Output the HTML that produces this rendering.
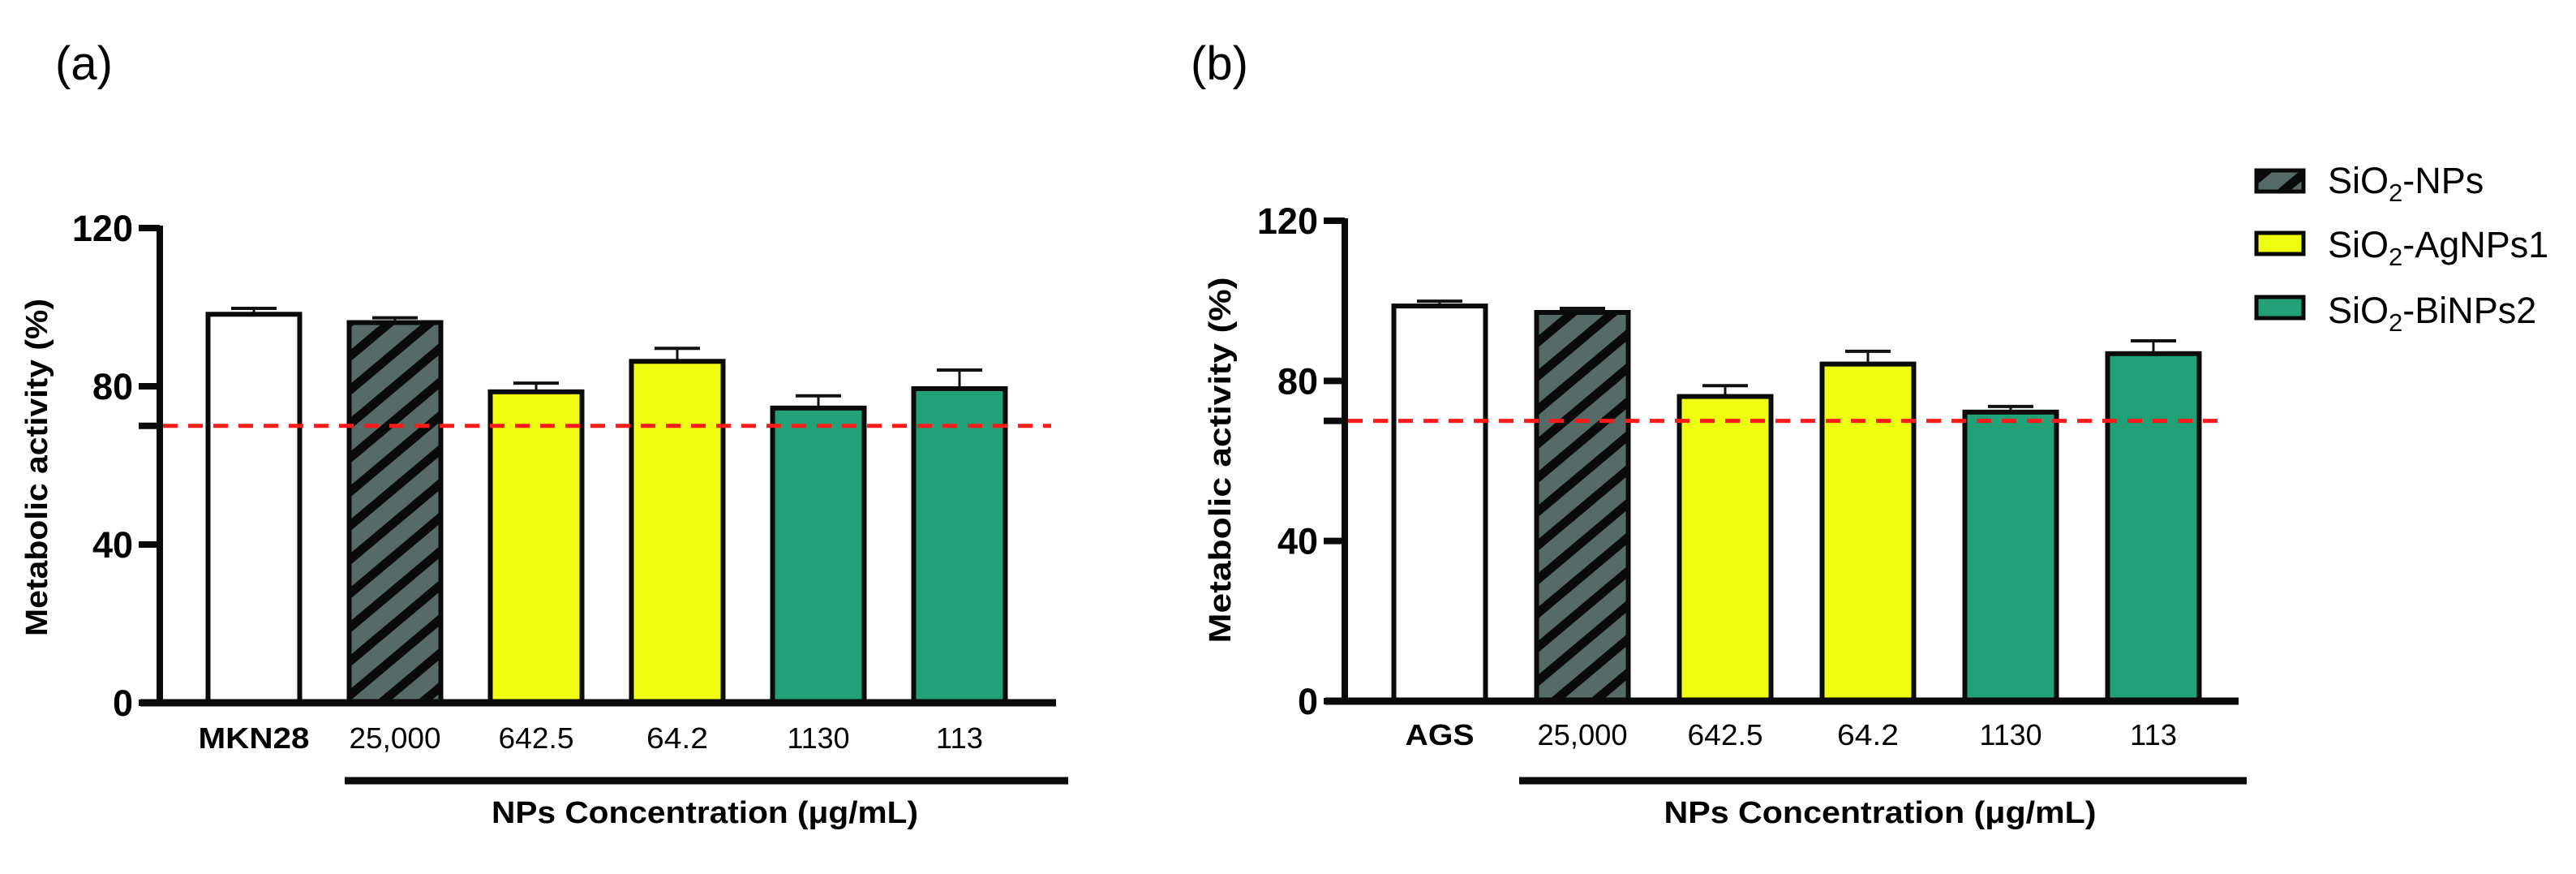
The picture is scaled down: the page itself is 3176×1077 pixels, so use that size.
<!DOCTYPE html>
<html><head><meta charset="utf-8"><style>
html,body{margin:0;padding:0;background:#fff;}
svg{display:block;}
text{font-family:"Liberation Sans",Arial,sans-serif;fill:#000;}
</style></head><body>
<svg id="fig" width="3176" height="1077" viewBox="0 0 3176 1077" xmlns="http://www.w3.org/2000/svg">
<defs>
<pattern id="hatch" patternUnits="userSpaceOnUse" width="32" height="32" patternTransform="rotate(-40)">
<rect width="32" height="32" fill="#566a68"/>
<rect width="32" height="11" fill="#0a0a0a"/>
</pattern>
</defs>
<g id="root"></g>
</svg>
<script>
const categoriesA = ["MKN28","25,000","642.5","64.2","1130","113"];
const valuesA = [98.2, 96.1, 78.6, 86.3, 74.5, 79.4];
const errorsA = [1.5, 1.2, 2.2, 3.3, 3.1, 4.7];
const categoriesB = ["AGS","25,000","642.5","64.2","1130","113"];
const valuesB = [98.7, 97.1, 76.1, 84.2, 72.2, 86.8];
const errorsB = [1.2, 1.0, 2.7, 3.2, 1.4, 3.2];
const groups = ["control","SiO2-NPs","SiO2-AgNPs1","SiO2-AgNPs1","SiO2-BiNPs2","SiO2-BiNPs2"];
const yTicks = [0, 40, 80, 120];
const threshold = 70;
const legendLabels = ["SiO2-NPs","SiO2-AgNPs1","SiO2-BiNPs2"];

const NS = "http://www.w3.org/2000/svg";
const root = document.getElementById("root");
function mk(tag, attrs, parent){
  const e = document.createElementNS(NS, tag);
  for (const k in attrs) e.setAttribute(k, attrs[k]);
  (parent||root).appendChild(e);
  return e;
}
const fills = {"control":"#ffffff","SiO2-NPs":"url(#hatch)","SiO2-AgNPs1":"#eeff10","SiO2-BiNPs2":"#22a077"};

function panel(p){
  const g = mk("g", {});
  
  
  const y = v => p.y0 - (v/120)*(p.y0 - p.y120);
  const x = i => p.x0 + i*p.step;
  const lt = mk("text", {x:p.letterX, y:98, "font-size":58}, g);
  lt.textContent = p.letter;
  
  
  const yt = mk("text", {x:0, y:0, "font-size":38, "font-weight":"bold", "text-anchor":"middle",
    transform:`translate(${p.titleX},${p.titleY}) rotate(-90)`, textLength:p.titleLen, lengthAdjust:"spacingAndGlyphs"}, g);
  yt.textContent = "Metabolic activity (%)";
  
  
  p.values.forEach((v, i) => {
    const cx = x(i), w = 113;
    const e = p.errors[i];
    const el = mk("line", {x1:cx, x2:cx, y1:y(v), y2:y(v+e), stroke:"#111", "stroke-width":3}, g);
    
    
    const cap = mk("line", {x1:cx-28, x2:cx+28, y1:y(v+e), y2:y(v+e), stroke:"#111", "stroke-width":4}, g);
    
    
    const r = mk("rect", {x:cx-w/2, y:y(v), width:w, height:y(0)-y(v), fill:fills[groups[i]], stroke:"#0a0a0a", "stroke-width":6}, g);
    
    
    const t = mk("text", {x:cx, y:p.labelY, "font-size":36, "text-anchor":"middle", "font-weight": i===0?"bold":"normal",
      textLength:p.labelLens[i], lengthAdjust:"spacingAndGlyphs"}, g);
    t.textContent = p.cats[i];
    
    
  });
  const th = mk("line", {x1:p.axisX+4, x2:p.redEnd, y1:y(threshold), y2:y(threshold), stroke:"#ff1a1a", "stroke-width":5, "stroke-dasharray":"18 13"}, g);
  
  
  const ya = mk("line", {x1:p.axisX, x2:p.axisX, y1:y(120)-3, y2:y(0)+4, stroke:"#0a0a0a", "stroke-width":8}, g);
  
  
  const xa = mk("line", {x1:p.axisX-24, x2:p.xEnd, y1:y(0), y2:y(0), stroke:"#0a0a0a", "stroke-width":9}, g);
  
  
  yTicks.concat([threshold]).forEach(v => {
    const tk = mk("line", {x1:p.axisX-26, x2:p.axisX, y1:y(v), y2:y(v), stroke:"#0a0a0a", "stroke-width":8}, g);
    
    
  });
  yTicks.forEach(v => {
    const tl = mk("text", {x:p.axisX-33, y:y(v)+16, "font-size":45, "font-weight":"bold", "text-anchor":"end"}, g);
    tl.textContent = v;
    
    
  });
  const br = mk("line", {x1:p.brX1, x2:p.brX2, y1:p.brY, y2:p.brY, stroke:"#0a0a0a", "stroke-width":9}, g);
  
  
  const nt = mk("text", {x:p.ntX, y:p.brY+52, "font-size":38, "font-weight":"bold", "text-anchor":"middle", textLength:p.ntLen, lengthAdjust:"spacingAndGlyphs"}, g);
  nt.textContent = "NPs Concentration (\u03bcg/mL)";
  
  
}

panel({name:"panel-a", letter:"(a)", letterX:68, x0:313, step:174, axisX:197, y0:866, y120:281,
  values:valuesA, errors:errorsA, cats:categoriesA, labelY:922, labelLens:[137,113,93,76,77,58],
  titleX:58, titleY:576, titleLen:416, redEnd:1296, xEnd:1302, brX1:425, brX2:1317, brY:962, ntX:869, ntLen:526});
panel({name:"panel-b", letter:"(b)", letterX:1468, x0:1775, step:176, axisX:1658, y0:864, y120:272,
  values:valuesB, errors:errorsB, cats:categoriesB, labelY:918, labelLens:[85,111,93,76,77,58],
  titleX:1517, titleY:567, titleLen:451, redEnd:2740, xEnd:2760, brX1:1873, brX2:2770, brY:962, ntX:2318, ntLen:533});

const lgFills = ["url(#hatch)","#eeff10","#22a077"];
const lgY = [210, 287, 366];
const lgBase = [238, 317, 398];
legendLabels.forEach((lab, i) => {
  const g = mk("g", {});
  
  
  const r = mk("rect", {x:2782, y:lgY[i], width:58, height:26, fill:lgFills[i], stroke:"#0a0a0a", "stroke-width":5}, g);
  
  
  const t = mk("text", {x:2870, y:lgBase[i], "font-size":45}, g);
  
  
  const a = mk("tspan", {}, t); a.textContent = "SiO";
  const s = mk("tspan", {"font-size":31, dy:10}, t); s.textContent = "2";
  const b = mk("tspan", {dy:-10}, t); b.textContent = lab.slice(4);
});
</script>
</body></html>
